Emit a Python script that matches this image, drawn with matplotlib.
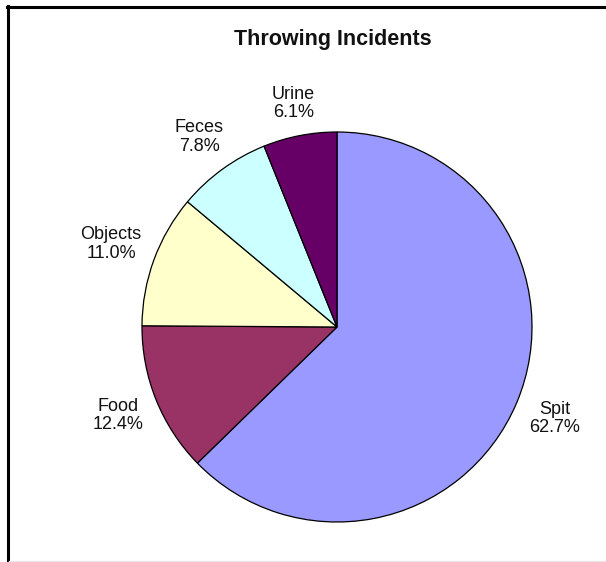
import numpy as np
import matplotlib.pyplot as plt
from matplotlib.lines import Line2D

# throwing incidents by type, in percent
tipos = ['Spit', 'Food', 'Objects', 'Feces', 'Urine']
porcentajes = [62.7, 12.4, 11.0, 7.8, 6.1]
colores = ['#9999FF', '#993366', '#FFFFCC', '#CCFFFF', '#660066']

plt.rcParams['font.family'] = ['Liberation Sans', 'DejaVu Sans']

fig = plt.figure(figsize=(6.06, 5.62), dpi=100)
ax = fig.add_axes([0, 0, 1, 1])

radio = 195
centro = (337, 235)
etiquetas = [f"{t}\n{p:.1f}%" for t, p in zip(tipos, porcentajes)]
wedges, textos = ax.pie(porcentajes, colors=colores, labels=etiquetas,
                        startangle=90, counterclock=False,
                        radius=radio, center=centro, labeldistance=1.2,
                        wedgeprops=dict(edgecolor='black', linewidth=0.9),
                        textprops=dict(fontsize=13, color='#111111'))

# pie() changes the limits, put them back afterwards (1 unit = 1 px)
ax.set_xlim(0, 606)
ax.set_ylim(0, 562)
ax.set_aspect('equal')
ax.axis('off')

# labels sit just outside the pie, the box edge a fixed gap from the rim
hueco = 11
fig.canvas.draw()
for w, t in zip(wedges, textos):
    t.set_ha('center')
    t.set_va('center')
    t.set_linespacing(1.1)
for w, t in zip(wedges, textos):
    fig.canvas.draw()
    bb = t.get_window_extent()
    ang = np.deg2rad((w.theta1 + w.theta2) / 2)
    c, s = np.cos(ang), np.sin(ang)
    d = radio + hueco + bb.width / 2 * abs(c) + bb.height / 2 * abs(s)
    t.set_position((centro[0] + d * c, centro[1] + d * s))

ax.text(333, 522, 'Throwing Incidents', ha='center', va='center',
        fontsize=15.5, fontweight='bold', color='#111111')

# marco
fig.add_artist(Line2D([8 / 606, 8 / 606], [0, 1 - 6 / 562], color='black', lw=2.2))
fig.add_artist(Line2D([7 / 606, 1], [1 - 7 / 562, 1 - 7 / 562], color='black', lw=2.2))
fig.add_artist(Line2D([9 / 606, 1], [1 / 562, 1 / 562], color='#e6e6e6', lw=1))

fig.savefig('out.png', dpi=100)
